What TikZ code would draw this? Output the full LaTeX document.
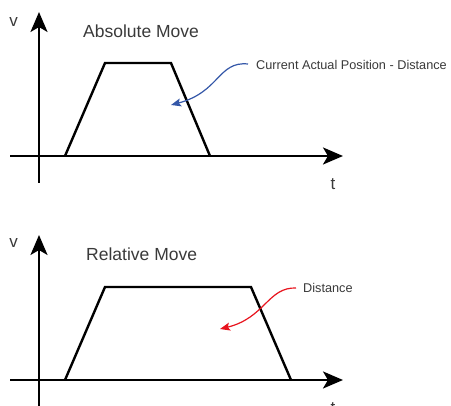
\documentclass[tikz,border=0pt]{standalone}
\usepackage{fontspec}
\setmainfont{Liberation Sans}
\usetikzlibrary{arrows.meta}
\definecolor{textgray}{HTML}{3A3A3A}
\definecolor{noteblue}{HTML}{3457A8}
\definecolor{notered}{HTML}{E8141E}
\begin{document}
\begin{tikzpicture}[x=1pt,y=-1pt,
  axis/.style={line width=2.3pt, -{Stealth[length=20pt,width=17pt,inset=5pt]}},
  profile/.style={line width=2.4pt, line join=miter},
  title/.style={font=\fontsize{17.5}{20}\selectfont, text=textgray, anchor=west, inner sep=0pt},
  axlabel/.style={font=\fontsize{17}{20}\selectfont, text=textgray, inner sep=0pt},
  note/.style={font=\fontsize{12.7}{15}\selectfont, text=textgray, anchor=west, inner sep=0pt},
  pointer/.style={line width=1.2pt, -{Stealth[length=10pt,width=8pt,inset=2pt]}}
]
\clip (0,0) rectangle (451,406);
\fill[white] (0,0) rectangle (451,406);

% ---------- top plot ----------
\coordinate (ay1) at (39,183);
\coordinate (ay1t) at (39,12);
\coordinate (ax1) at (10,156);
\coordinate (ax1t) at (343,156);
\draw[axis] (ay1) -- (ay1t);
\draw[axis] (ax1) -- (ax1t);
\coordinate (p1a) at (65,156);
\coordinate (p1b) at (105,63);
\coordinate (p1c) at (171,63);
\coordinate (p1d) at (210,156);
\draw[profile] (p1a) -- (p1b) -- (p1c) -- (p1d);
\node[axlabel] (v1) at (13.5,22.5) {v};
\node[axlabel, anchor=base] (t1) at (333,190) {t};
\node[title] (ttl1) at (83,31) {Absolute Move};
\node[note] (n1) at (256,65) {Current Actual Position - Distance};
\coordinate (n1tip) at (171,105);
\draw[pointer, noteblue] (n1.west) ++(-8,-1) coordinate (n1s)
  .. controls (218,61) and (220,92) .. (n1tip);

% ---------- bottom plot ----------
\coordinate (ay2) at (39,410);
\coordinate (ay2t) at (39,235);
\coordinate (ax2) at (10,380);
\coordinate (ax2t) at (343,380);
\draw[axis] (ay2) -- (ay2t);
\draw[axis] (ax2) -- (ax2t);
\coordinate (p2a) at (65,380);
\coordinate (p2b) at (105,287);
\coordinate (p2c) at (251,287);
\coordinate (p2d) at (291,380);
\draw[profile] (p2a) -- (p2b) -- (p2c) -- (p2d);
\node[axlabel] (v2) at (13.5,243) {v};
\node[axlabel, anchor=base] (t2) at (333,414) {t};
\node[title] (ttl2) at (86,254) {Relative Move};
\node[note] (n2) at (303,288) {Distance};
\coordinate (n2tip) at (220,329);
\draw[pointer, notered] (n2.west) ++(-7,0) coordinate (n2s)
  .. controls (268,287) and (265,318) .. (n2tip);
\end{tikzpicture}
\end{document}
